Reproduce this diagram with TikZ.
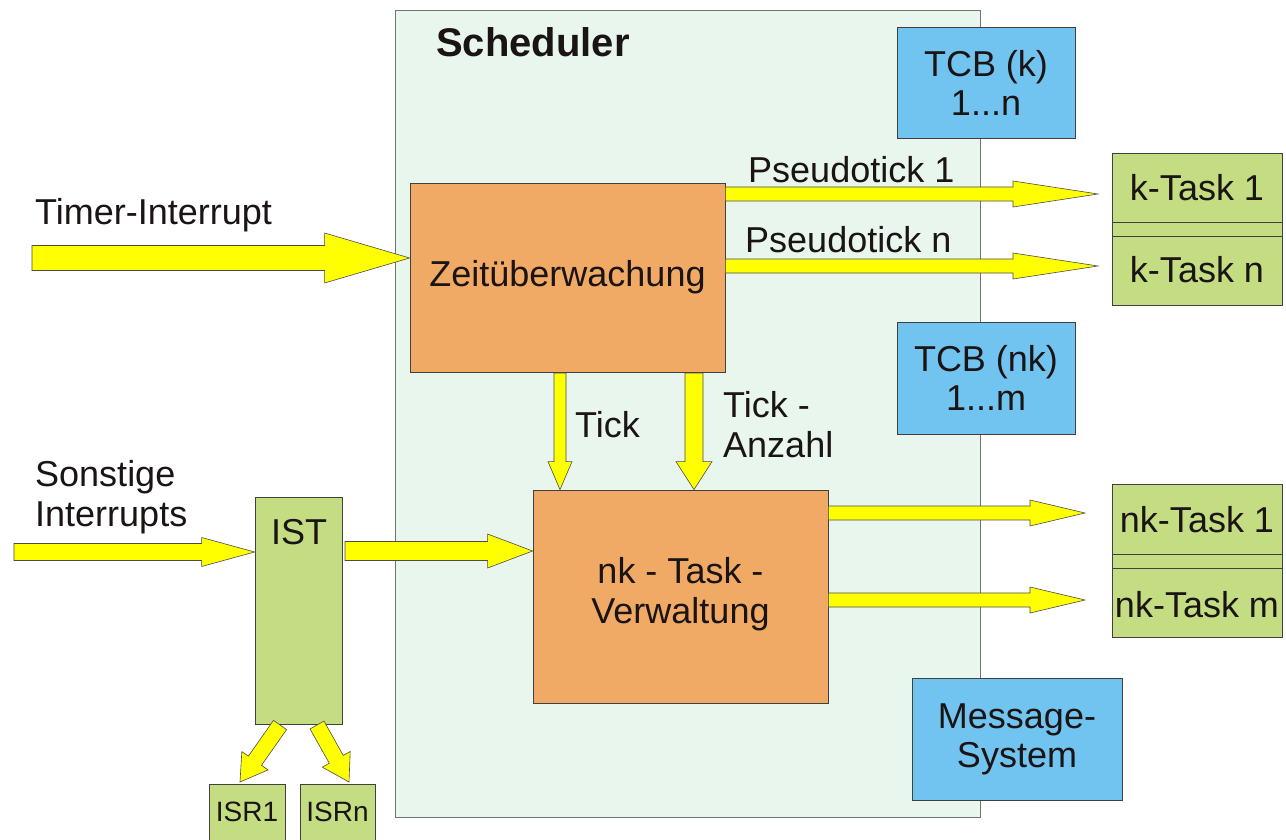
\documentclass[tikz,border=0pt]{standalone}
\usepackage{fontspec}
\setmainfont{Liberation Sans}
\usetikzlibrary{calc}
\definecolor{schedfill}{HTML}{E9F6EE}
\definecolor{orangefill}{HTML}{F0AA66}
\definecolor{bluefill}{HTML}{72C4F0}
\definecolor{greenfill}{HTML}{C4DC82}
\definecolor{txt}{HTML}{1A1414}
\definecolor{yarrowfill}{HTML}{FFFF00}
\tikzset{
  box/.style={draw=black!75, line width=0.8pt, inner sep=0pt, align=center, text=txt,
    font=\fontsize{36}{39}\selectfont},
  orangebox/.style={box, fill=orangefill},
  bluebox/.style={box, fill=bluefill},
  greenbox/.style={box, fill=greenfill},
  lbl/.style={text=txt, inner sep=0pt, align=left, font=\fontsize{36}{40}\selectfont},
  yarrow/.style={fill=yarrowfill, draw=black!70, line width=0.6pt, line join=miter},
}
% #1 start, #2 end, #3 half shaft, #4 half head, #5 head length
\newcommand{\barrow}[5]{%
  \path (#1) coordinate (ba-s) (#2) coordinate (ba-e) ($(#2)!#5!(#1)$) coordinate (ba-m);
  \filldraw[yarrow] ($(ba-s)!#3!90:(ba-e)$) -- ($(ba-m)!#3!-90:(ba-s)$) -- ($(ba-m)!#4!-90:(ba-s)$)
    -- (ba-e) -- ($(ba-m)!#4!90:(ba-s)$) -- ($(ba-m)!#3!90:(ba-s)$) -- ($(ba-s)!#3!-90:(ba-e)$) -- cycle;}
\begin{document}
\begin{tikzpicture}[x=1pt,y=-1pt]
\clip (0,0) rectangle (1286,840);
\fill[white] (0,0) rectangle (1286,840);

% Scheduler frame
\node[draw=black!55, line width=0.8pt, fill=schedfill, minimum width=585pt, minimum height=807pt, inner sep=0pt] (sched) at (687.5,413.5) {};
\node[anchor=west, inner sep=0pt, text=txt, font=\fontsize{40}{46}\bfseries\selectfont] (schedlbl) at (436,42) {Scheduler};

% TCB boxes
\node[bluebox, minimum width=178pt, minimum height=111pt] (tcbk) at (986,82.5) {TCB (k)\\1...n};
\node[bluebox, minimum width=178pt, minimum height=112pt] (tcbnk) at (986,378) {TCB (nk)\\1...m};
\node[bluebox, minimum width=210pt, minimum height=122pt] (msg) at (1017,739) {Message-\\System};

% Orange boxes
\node[orangebox, minimum width=315pt, minimum height=189pt] (zeit) at (567.5,277.5) {Zeitüberwachung};
\node[orangebox, minimum width=295pt, minimum height=213pt] (nkv) at (680.5,596.5) {};
\node[lbl, align=center] (nkvlbl) at (680.5,594) {nk - Task -\\Verwaltung};

% IST and ISR
\node[greenbox, minimum width=87pt, minimum height=227pt] (ist) at (298.5,610.5) {};
\node[lbl] (istlbl) at (299,532) {IST};
\node[greenbox, minimum width=76pt, minimum height=70pt] (isr1) at (247,819) {};
\node[lbl, font=\fontsize{28}{32}\selectfont] (isr1lbl) at (247,812) {ISR1};
\node[greenbox, minimum width=75pt, minimum height=70pt] (isrn) at (337.5,819) {};
\node[lbl, font=\fontsize{28}{32}\selectfont] (isrnlbl) at (337.5,812) {ISRn};

% k-Task stack
\node[greenbox, minimum width=170pt, minimum height=152pt] (ktask) at (1197,229) {};
\draw[black!75, line width=0.8pt] (ktask.west |- 0,222) coordinate (kl1) -- (ktask.east |- kl1);
\draw[black!75, line width=0.8pt] (ktask.west |- 0,236) coordinate (kl2) -- (ktask.east |- kl2);
\node[lbl] (kt1) at (1197,188) {k-Task 1};
\node[lbl] (ktn) at (1197,270) {k-Task n};

% nk-Task stack
\node[greenbox, minimum width=170pt, minimum height=153pt] (nktask) at (1197,561) {};
\draw[black!75, line width=0.8pt] (nktask.west |- 0,554) coordinate (nl1) -- (nktask.east |- nl1);
\draw[black!75, line width=0.8pt] (nktask.west |- 0,568) coordinate (nl2) -- (nktask.east |- nl2);
\node[lbl] (nkt1) at (1197,520) {nk-Task 1};
\node[lbl] (nktm) at (1197,605) {nk-Task m};

% Labels
\node[lbl, anchor=west] (timerlbl) at (35,215) {Timer-Interrupt};
\node[lbl, anchor=west] (p1lbl) at (748,170) {Pseudotick 1};
\node[lbl, anchor=west] (pnlbl) at (745,240) {Pseudotick n};
\node[lbl, anchor=west] (ticklbl) at (575,425) {Tick};
\node[lbl, anchor=west, align=left] (tanzlbl) at (723,425) {Tick -\\Anzahl};
\node[lbl, anchor=west, align=left] (sonstlbl) at (35,497) {Sonstige\\Interrupts};

% Coordinates for block arrows
\coordinate (timerS) at (32,258);
\coordinate (sonstS) at (14,552);

% Block arrows
\barrow{timerS}{zeit.west |- timerS}{12.5pt}{25pt}{85pt}
\barrow{zeit.east |- 0,194}{1098,194}{7pt}{13pt}{85pt}
\barrow{zeit.east |- 0,266}{1098,266}{7pt}{13pt}{85pt}
\barrow{560,373}{nkv.north -| 560,0}{6pt}{12pt}{28pt}
\barrow{694,373}{nkv.north -| 694,0}{9pt}{18pt}{28pt}
\barrow{sonstS}{ist.west |- sonstS}{8.5pt}{14.5pt}{53pt}
\barrow{345,551}{nkv.west |- 0,551}{9.5pt}{17pt}{45pt}
\barrow{nkv.east |- 0,513}{1085,513}{7pt}{13pt}{55pt}
\barrow{nkv.east |- 0,600}{1085,600}{7pt}{13pt}{55pt}
\barrow{280,725}{240,782}{8pt}{16pt}{26pt}
\barrow{317,725}{349,782}{8pt}{16pt}{26pt}
\end{tikzpicture}
\end{document}
